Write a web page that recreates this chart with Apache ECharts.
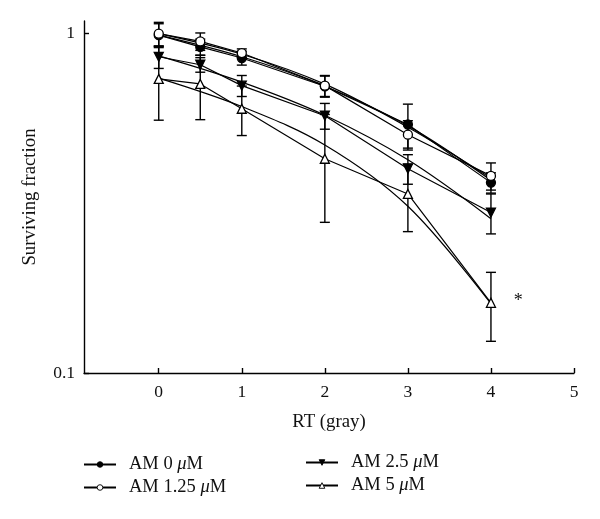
<!DOCTYPE html>
<html><head><meta charset="utf-8">
<script src="https://cdn.jsdelivr.net/npm/echarts@6/dist/echarts.min.js"></script>
<style>html,body{margin:0;padding:0;background:#fff}#c{width:600px;height:519px}</style>
</head><body><div id="c"></div>
<script>
// Doses (gray)
const doses = [0, 0.5, 1, 2, 3, 4];
// Surviving fraction (mean) and error per series
const am0 = [0.99, 0.914, 0.848, 0.70, 0.54, 0.364];
const am0Err = [0.08, 0.05, 0.04, 0.05, 0.08, 0.025];
const am125 = [1.0, 0.949, 0.877, 0.703, 0.504, 0.381];
const am125Err = [0.08, 0.056, 0.025, 0.05, 0.05, 0.035];
const am25 = [0.855, 0.81, 0.703, 0.573, 0.40, 0.297];
const am25Err = [0.065, 0.04, 0.05, 0.05, 0.04, 0.04];
const am5 = [0.736, 0.711, 0.601, 0.428, 0.337, 0.161];
const am5Err = [0.18, 0.153, 0.10, 0.15, 0.076, 0.037];
// Fitted curves
const fitDoses = [0, 1, 2, 3, 4];
const fitAm0 = [0.99, 0.855, 0.70, 0.535, 0.37];
const fitAm125 = [1.0, 0.87, 0.71, 0.53, 0.375];
const fitAm25 = [0.86, 0.72, 0.575, 0.425, 0.285];
const fitAm5 = [0.74, 0.61, 0.47, 0.31, 0.16];
// Tick labels
const xTicks = [0, 1, 2, 3, 4, 5];
const yTicks = [0.1, 1];
const names = ['AM 0 μM', 'AM 1.25 μM', 'AM 2.5 μM', 'AM 5 μM'];

const FONT = 'Liberation Serif';
const pair = (xs, ys) => xs.map((x, i) => [x, ys[i]]);
const errData = (ys, es) => doses.map((x, i) => [x, ys[i] - es[i], ys[i] + es[i]]);

function errSeries(ys, es) {
  return {
    type: 'custom', z: 1, silent: true,
    data: errData(ys, es),
    renderItem: function (params, api) {
      const lo = api.coord([api.value(0), api.value(1)]);
      const hi = api.coord([api.value(0), api.value(2)]);
      const w = 5;
      const st = { stroke: '#000', lineWidth: 1.4 };
      return { type: 'group', children: [
        { type: 'line', shape: { x1: lo[0], y1: lo[1], x2: hi[0], y2: hi[1] }, style: st },
        { type: 'line', shape: { x1: lo[0] - w, y1: lo[1], x2: lo[0] + w, y2: lo[1] }, style: st },
        { type: 'line', shape: { x1: hi[0] - w, y1: hi[1], x2: hi[0] + w, y2: hi[1] }, style: st }
      ]};
    }
  };
}
function fitSeries(ys) {
  return { type: 'line', data: pair(fitDoses, ys), smooth: 0.35, showSymbol: false, symbol: 'none',
    lineStyle: { color: '#000', width: 1.2 }, z: 2, silent: true };
}
function dataSeries(name, ys, symbol, fill, rotate, extra) {
  return Object.assign({ name: name, type: 'line', data: pair(doses, ys), symbol: symbol, symbolSize: 9,
    symbolRotate: rotate || 0, showAllSymbol: true,
    itemStyle: { color: fill, borderColor: '#000', borderWidth: 1.3 },
    lineStyle: { color: '#000', width: 1.2 }, z: 3 }, extra || {});
}
const rich = {
  a: { fontFamily: FONT, fontSize: 18.5, color: '#111' },
  p: { fontFamily: FONT, fontSize: 18.5, color: '#111', padding: [0, 0, 0, 8] },
  i: { fontFamily: FONT, fontSize: 18.5, fontStyle: 'italic', color: '#111' }
};
const fmt = n => { const p = n.split('μ'); return '{p|' + p[0] + '}{i|μ}{a|' + p[1] + '}'; };
const legendBase = { orient: 'vertical', itemWidth: 32, itemHeight: 7, itemGap: 4,
  itemStyle: { borderWidth: 0.9 }, formatter: fmt, textStyle: { rich: rich } };

const chart = echarts.init(document.getElementById('c'));
chart.setOption({
  animation: false,
  backgroundColor: '#fff',
  grid: { left: 84, right: 26, top: 21, bottom: 146 },
  xAxis: {
    type: 'value', min: -0.9, max: 5,
    name: 'RT (gray)', nameLocation: 'middle', nameGap: 40,
    nameTextStyle: { fontFamily: FONT, fontSize: 18.8, color: '#111' },
    axisLine: { show: true, onZero: false, lineStyle: { color: '#000', width: 1.4 } },
    axisTick: { show: true, inside: true, length: 5, lineStyle: { color: '#000', width: 1.4 }, customValues: xTicks },
    axisLabel: { fontFamily: FONT, fontSize: 17.5, color: '#111', margin: 10, customValues: xTicks },
    splitLine: { show: false }
  },
  yAxis: {
    type: 'log', logBase: 10, min: 0.1, max: 1.09,
    name: 'Surviving fraction', nameLocation: 'middle', nameGap: 44,
    nameTextStyle: { fontFamily: FONT, fontSize: 18.8, color: '#111' },
    axisLine: { show: true, onZero: false, lineStyle: { color: '#000', width: 1.4 } },
    axisTick: { show: true, inside: true, length: 5, lineStyle: { color: '#000', width: 1.4 }, customValues: yTicks },
    axisLabel: { fontFamily: FONT, fontSize: 17.5, color: '#111', margin: 9, customValues: yTicks,
      formatter: v => (v >= 0.99 ? '1' : '0.1') },
    splitLine: { show: false }
  },
  legend: [
    Object.assign({ data: [names[0], names[1]], left: 78, top: 450 }, legendBase),
    Object.assign({ data: [names[2], names[3]], left: 300, top: 448 }, legendBase)
  ],
  series: [
    errSeries(am0, am0Err), errSeries(am125, am125Err), errSeries(am25, am25Err), errSeries(am5, am5Err),
    fitSeries(fitAm0), fitSeries(fitAm125), fitSeries(fitAm25), fitSeries(fitAm5),
    dataSeries(names[0], am0, 'circle', '#000'),
    dataSeries(names[1], am125, 'circle', '#fff'),
    dataSeries(names[2], am25, 'triangle', '#000', 180),
    dataSeries(names[3], am5, 'triangle', '#fff', 0, {
      markPoint: { symbol: 'circle', symbolSize: 1, itemStyle: { color: 'transparent' },
        data: [{ coord: [4.33, 0.163], value: '*' }],
        label: { show: true, formatter: '*', fontFamily: FONT, fontSize: 18, color: '#111' } }
    })
  ]
});
</script></body></html>
